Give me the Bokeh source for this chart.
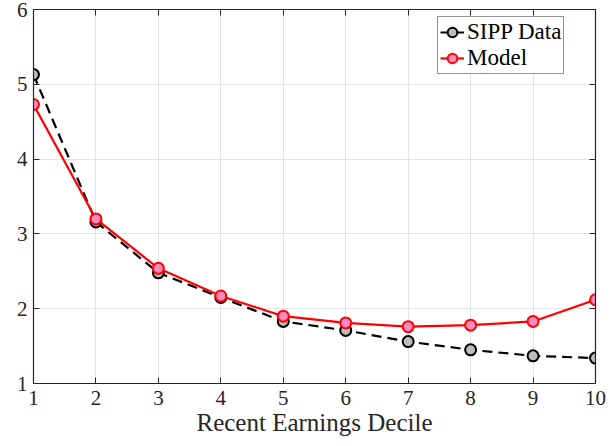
from bokeh.plotting import figure
from bokeh.models import LinearAxis, Range1d, FixedTicker, Legend, LegendItem
from bokeh.embed import file_html
from bokeh.resources import INLINE

deciles = [1, 2, 3, 4, 5, 6, 7, 8, 9, 10]
sipp = [5.13, 3.16, 2.48, 2.15, 1.83, 1.71, 1.56, 1.45, 1.37, 1.34]
model = [4.73, 3.20, 2.54, 2.17, 1.90, 1.81, 1.76, 1.78, 1.83, 2.12]
x_ticks = [1, 2, 3, 4, 5, 6, 7, 8, 9, 10]
y_ticks = [1, 2, 3, 4, 5, 6]
x_label = "Recent Earnings Decile"

FONT = "Liberation Serif"
AX = "#262626"

p = figure(width=607, height=438, output_backend="svg", toolbar_location=None,
           x_range=Range1d(1, 10), y_range=Range1d(1, 6),
           min_border_left=33, min_border_right=12, min_border_top=9,
           min_border_bottom=55, x_axis_label=x_label)
p.outline_line_color = None
p.background_fill_color = "white"
p.border_fill_color = "white"

p.xgrid.ticker = FixedTicker(ticks=x_ticks)
p.ygrid.ticker = FixedTicker(ticks=y_ticks)
for g in (p.xgrid[0], p.ygrid[0]):
    g.grid_line_color = "#e3e3e3"
    g.grid_line_width = 1

for ax in (p.xaxis[0], p.yaxis[0]):
    ax.axis_line_color = AX
    ax.axis_line_width = 1.2
    ax.major_tick_line_color = AX
    ax.major_tick_in = 6
    ax.major_tick_out = 0
    ax.minor_tick_line_color = None
    ax.major_label_text_font = FONT
    ax.major_label_text_font_size = "21px"
    ax.major_label_text_color = AX
    ax.axis_label_text_font = FONT
    ax.axis_label_text_font_size = "25px"
    ax.axis_label_text_font_style = "normal"
    ax.axis_label_text_color = AX
p.xaxis[0].ticker = FixedTicker(ticks=x_ticks)
p.yaxis[0].ticker = FixedTicker(ticks=y_ticks)
p.xaxis[0].major_label_standoff = 7
p.xaxis[0].axis_label_standoff = 1
p.yaxis[0].major_label_standoff = 6

top = LinearAxis(ticker=FixedTicker(ticks=x_ticks),
                 major_label_overrides={t: "" for t in x_ticks},
                 major_label_standoff=0, major_label_text_font_size="1px",
                 axis_line_color=AX, axis_line_width=1.2, major_tick_line_color=AX,
                 major_tick_in=6, major_tick_out=0, minor_tick_line_color=None)
right = LinearAxis(ticker=FixedTicker(ticks=y_ticks),
                   major_label_overrides={t: "" for t in y_ticks},
                   major_label_standoff=0, major_label_text_font_size="1px",
                   axis_line_color=AX, axis_line_width=1.2, major_tick_line_color=AX,
                   major_tick_in=6, major_tick_out=0, minor_tick_line_color=None)
p.add_layout(top, "above")
p.add_layout(right, "right")

l1 = p.line(deciles, sipp, line_color="black", line_width=2.2, line_dash="10 6")
c1 = p.scatter(deciles, sipp, size=11, marker="circle", fill_color="#bdbdbd",
               line_color="black", line_width=2)
l2 = p.line(deciles, model, line_color="#ff0000", line_width=2.2)
c2 = p.scatter(deciles, model, size=11, marker="circle", fill_color="#ff8ac0",
               line_color="#ff0000", line_width=2)

legend = Legend(items=[LegendItem(label="SIPP Data", renderers=[l1, c1]),
                       LegendItem(label="Model", renderers=[l2, c2])],
                location=(404, 309))
legend.label_text_font = FONT
legend.label_text_font_size = "23px"
legend.label_text_color = "black"
legend.border_line_color = AX
legend.border_line_width = 1
legend.background_fill_alpha = 1
legend.glyph_width = 24
legend.glyph_height = 24
legend.label_height = 24
legend.label_standoff = 3
legend.spacing = 0
legend.padding = 2
legend.margin = 0
p.add_layout(legend)

open("out.html", "w").write(file_html(p, INLINE))
